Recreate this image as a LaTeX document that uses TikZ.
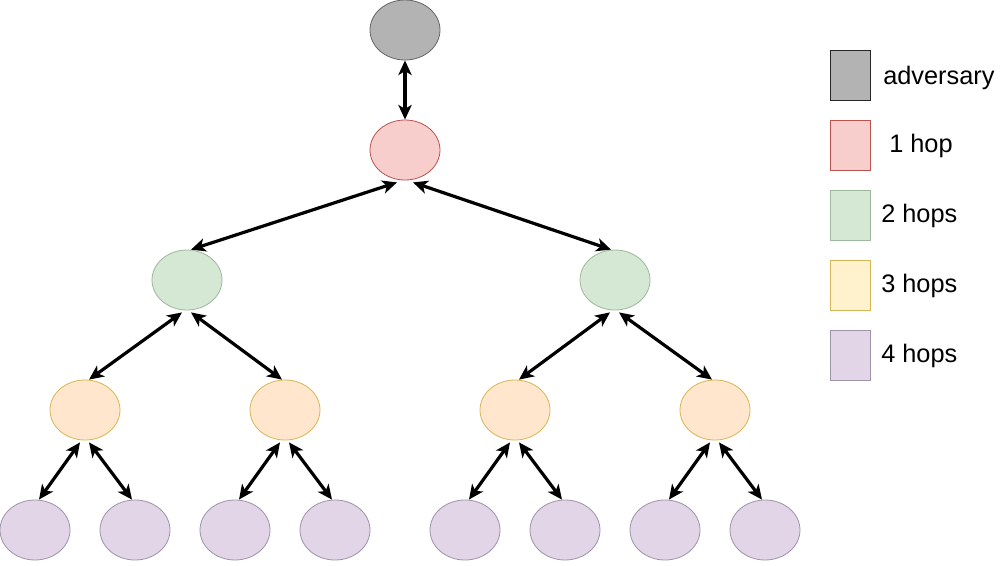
\documentclass[tikz,border=0pt]{standalone}
\usepackage{fontspec}
\setmainfont{Liberation Sans}
\usetikzlibrary{arrows.meta,calc,shapes.geometric}
\definecolor{advF}{HTML}{B3B3B3}
\definecolor{advD}{HTML}{666666}
\definecolor{h1F}{HTML}{F8CECC}
\definecolor{h1D}{HTML}{B85450}
\definecolor{h2F}{HTML}{D5E8D4}
\definecolor{h2D}{HTML}{9DB89A}
\definecolor{h3F}{HTML}{FFE6CC}
\definecolor{h3D}{HTML}{D6B656}
\definecolor{h3LF}{HTML}{FFF2CC}
\definecolor{h4F}{HTML}{E1D5E7}
\definecolor{h4D}{HTML}{9F93A8}
\tikzset{
  nd/.style={ellipse, minimum width=52.5pt, minimum height=45pt, inner sep=0pt, line width=0.6pt},
  adv/.style={nd, fill=advF, draw=advD},
  hA/.style={nd, fill=h1F, draw=h1D},
  hB/.style={nd, fill=h2F, draw=h2D},
  hC/.style={nd, fill=h3F, draw=h3D},
  hD/.style={nd, fill=h4F, draw=h4D},
  sq/.style={minimum width=30pt, minimum height=37.5pt, inner sep=0pt, line width=0.6pt},
  lab/.style={anchor=west, inner sep=0pt, font=\fontsize{19}{23}\selectfont},
  arr/.style={line width=2.4pt, {Stealth[length=11pt,width=10pt,inset=3pt]}-{Stealth[length=11pt,width=10pt,inset=3pt]}}
}
\begin{document}
\begin{tikzpicture}[x=0.75pt,y=-0.75pt]
\useasboundingbox (0,0) rectangle (1001,565);
% nodes
\node[adv] (a) at (405,30) {};
\node[hA] (r) at (405,150) {};
\node[hB] (b1) at (187,280) {};
\node[hB] (b2) at (615,280) {};
\node[hC] (c1) at (85,410) {};
\node[hC] (c2) at (285,410) {};
\node[hC] (c3) at (515,410) {};
\node[hC] (c4) at (715,410) {};
\node[hD] (d1) at (35,530) {};
\node[hD] (d2) at (135,530) {};
\node[hD] (d3) at (235,530) {};
\node[hD] (d4) at (335,530) {};
\node[hD] (d5) at (465,530) {};
\node[hD] (d6) at (565,530) {};
\node[hD] (d7) at (665,530) {};
\node[hD] (d8) at (765,530) {};
% edges
\draw[arr] (a.south) -- (r.north);
\draw[arr] ($(r.south)+(-8,2)$) -- ($(b1.north)+(4,0)$);
\draw[arr] ($(r.south)+(8,2)$) -- ($(b2.north)+(-4,0)$);
\foreach \p/\l/\rr in {b1/c1/c2, b2/c3/c4, c1/d1/d2, c2/d3/d4, c3/d5/d6, c4/d7/d8}{
  \draw[arr] ($(\p.south)+(-5,2)$) -- ($(\l.north)+(4,0)$);
  \draw[arr] ($(\p.south)+(4,2)$) -- ($(\rr.north)+(-3,0)$);
}
% legend
\node[sq, fill=advF, draw=black!85] (s1) at (850,75) {};
\node[sq, fill=h1F, draw=h1D] (s2) at (850,145) {};
\node[sq, fill=h2F, draw=h2D] (s3) at (850,215) {};
\node[sq, fill=h3LF, draw=h3D] (s4) at (850,285) {};
\node[sq, fill=h4F, draw=h4D] (s5) at (850,355) {};
\node[lab] (t1) at (883,78) {adversary};
\node[lab] (t2) at (889,146) {1 hop};
\node[lab] (t3) at (881,216) {2 hops};
\node[lab] (t4) at (881,286) {3 hops};
\node[lab] (t5) at (881,356) {4 hops};
\end{tikzpicture}
\end{document}
